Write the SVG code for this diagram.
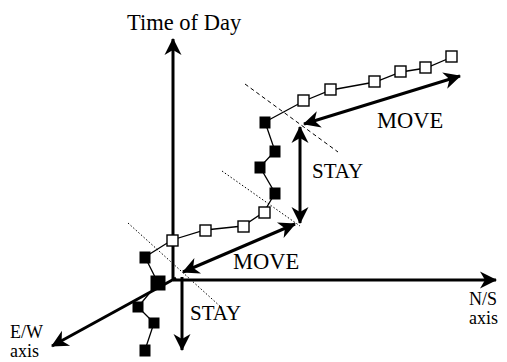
<svg xmlns="http://www.w3.org/2000/svg" width="507" height="362" viewBox="0 0 507 362">
<style>
.ax{stroke:#000;stroke-width:3;fill:none;marker-end:url(#ah)}
.dbl{stroke:#000;stroke-width:3;fill:none;marker-start:url(#ah);marker-end:url(#ah)}
.traj{stroke:#000;stroke-width:1.3;fill:none}
.op{fill:#fff;stroke:#000;stroke-width:1.4}
.cl{fill:#000;stroke:#000;stroke-width:1}
.dash{stroke:#000;stroke-width:1;fill:none;stroke-dasharray:4 3}
.dot{stroke:#000;stroke-width:1;fill:none;stroke-dasharray:1.5 2}
text{font-family:"Liberation Serif","Times New Roman",serif;font-size:22.5px;fill:#000}
.sm{font-size:21px}
.ax2{font-size:18px}
</style>
<defs>
<marker id="ah" viewBox="-20 -10 22 20" markerWidth="22" markerHeight="20" refX="-1" refY="0" orient="auto-start-reverse" markerUnits="userSpaceOnUse">
<path d="M0,0 L-17,-8.5 L-12,0 L-17,8.5 Z" fill="#000"/>
</marker>
</defs>
<g id="guides">
<line class="dash" x1="245" y1="84" x2="338" y2="152"/>
<line class="dot" x1="222" y1="171" x2="300" y2="226"/>
<line class="dot" x1="128" y1="223" x2="222" y2="308"/>
</g>
<g id="axes">
<line id="time-axis" class="ax" x1="173" y1="280" x2="173" y2="39"/>
<line id="ns-axis" class="ax" x1="173" y1="280" x2="496" y2="280"/>
<line id="ew-axis" class="ax" x1="176" y1="278" x2="52" y2="346"/>
</g>
<g id="connectors">
<polyline class="traj" points="145,350 154,323 138,307 158,283 145,257 172,240 205,230 243,226 264,212 275,193 260,167 275,151 265,122 304,101 331,90 375,82 401,72 426,68 452,57"/>
<line id="move1" class="dbl" x1="183" y1="272" x2="295" y2="224"/>
<line id="stay1" class="ax" x1="182" y1="277" x2="182" y2="350"/>
<line id="stay2" class="dbl" x1="300" y1="127" x2="300" y2="223"/>
<line id="move2" class="dbl" x1="304" y1="124" x2="460" y2="76"/>
</g>
<g id="points">
<rect class="cl" x="140" y="345" width="10" height="11"/>
<rect class="cl" x="149" y="318" width="10" height="10"/>
<rect class="cl" x="133" y="302" width="10" height="10"/>
<rect class="cl" x="151" y="276" width="14" height="14"/>
<rect class="cl" x="140" y="252" width="10" height="11"/>
<rect class="op" x="167" y="235" width="11" height="11"/>
<rect class="op" x="200" y="225" width="11" height="11"/>
<rect class="op" x="238" y="221" width="11" height="11"/>
<rect class="op" x="259" y="207" width="11" height="11"/>
<rect class="cl" x="270" y="188" width="10" height="11"/>
<rect class="cl" x="255" y="162" width="10" height="11"/>
<rect class="cl" x="270" y="146" width="10" height="11"/>
<rect class="cl" x="260" y="117" width="10" height="11"/>
<rect class="op" x="298" y="95" width="11" height="11"/>
<rect class="op" x="325" y="84" width="11" height="11"/>
<rect class="op" x="369" y="76" width="11" height="11"/>
<rect class="op" x="395" y="66" width="11" height="11"/>
<rect class="op" x="420" y="62" width="11" height="11"/>
<rect class="op" x="446" y="51" width="11" height="11"/>
</g>
<g id="labels">
<text x="127" y="30">Time of Day</text>
<text x="377" y="128">MOVE</text>
<text class="sm" x="312" y="178">STAY</text>
<text x="233" y="269">MOVE</text>
<text class="sm" x="190" y="320">STAY</text>
<text class="ax2" x="469" y="305">N/S</text>
<text class="ax2" x="469" y="324">axis</text>
<text class="ax2" x="10" y="338">E/W</text>
<text class="ax2" x="10" y="357">axis</text>
</g>
</svg>
